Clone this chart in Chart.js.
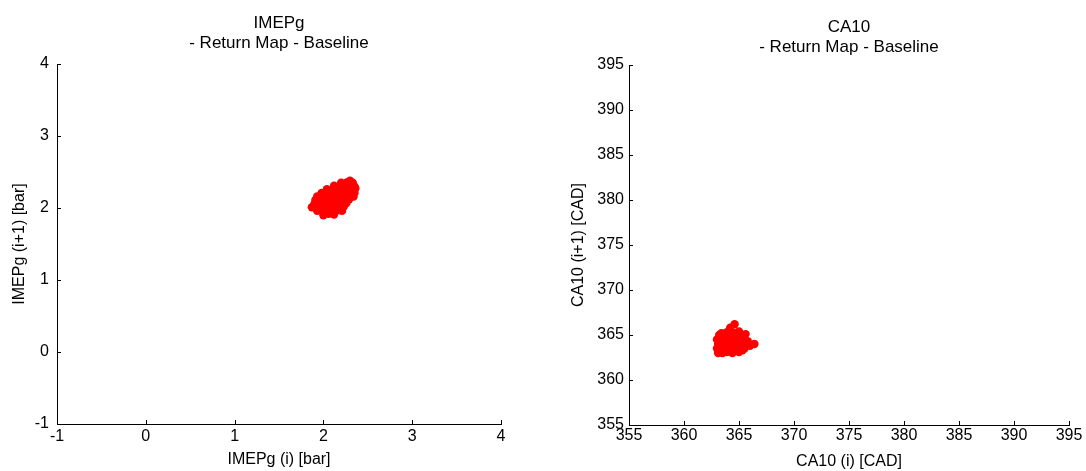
<!DOCTYPE html>
<html>
<head>
<meta charset="utf-8">
<script src="https://cdn.jsdelivr.net/npm/chart.js@4"></script>
<style>
  html, body { margin: 0; padding: 0; background: #fff; }
  #wrap { position: relative; width: 1086px; height: 471px; overflow: hidden; }
  canvas { position: absolute; top: 0; }
  #c1 { left: 0; }
  #c2 { left: 543px; }
</style>
</head>
<body>
<div id="wrap">
  <canvas id="c1" width="543" height="471"></canvas>
  <canvas id="c2" width="543" height="471"></canvas>
</div>
<script>
// ---- Data: IMEPg return map (bar) ----
const imepI  = [2.00,2.06,2.12,
                1.93,1.99,2.05,2.11,2.17,2.21,
                1.87,1.93,1.99,2.05,2.11,2.17,2.23,
                1.90,1.96,2.02,2.08,2.14,2.20,2.26,
                1.91,1.97,2.03,2.09,2.15,2.21,2.29,
                1.93,1.99,2.05,2.11,2.17,2.23,2.29,2.34,
                1.98,2.04,2.10,2.16,2.22,2.28,2.35,
                2.04,2.10,2.16,2.22,2.28,2.36,
                2.12,2.18,2.24,2.30,2.35,
                2.20,2.27,2.33,
                2.30];
const imepI1 = [1.90,1.92,1.91,
                1.96,1.95,1.97,1.95,1.97,1.96,
                2.01,2.02,2.00,2.02,2.01,2.00,2.02,
                2.06,2.07,2.05,2.07,2.06,2.05,2.07,
                2.11,2.12,2.10,2.12,2.11,2.10,2.12,
                2.16,2.17,2.15,2.17,2.16,2.15,2.17,2.16,
                2.21,2.20,2.22,2.21,2.20,2.22,2.21,
                2.26,2.25,2.27,2.26,2.25,2.27,
                2.31,2.30,2.32,2.31,2.30,
                2.35,2.36,2.35,
                2.38];
const imepTicks = [-1, 0, 1, 2, 3, 4];

// ---- Data: CA10 return map (CAD) ----
const ca10I  = [363.0,363.0,363.1,363.1,363.2,363.2,363.3,363.3,363.4,363.5,363.5,363.6,363.7,363.7,363.8,363.9,363.9,364.0,364.0,364.1,364.2,364.2,364.3,364.3,364.4,364.5,364.5,364.6,364.6,364.7,364.8,364.8,364.9,365.0,365.0,365.1,365.2,365.2,365.3,365.4,365.5,365.5,365.6,365.8,366.0,366.4,363.6,364.0,364.4,364.8,363.4,363.8];
const ca10I1 = [363.5,364.5,363.0,364.0,365.0,363.8,364.6,363.2,365.2,364.2,363.0,363.7,364.9,363.4,364.4,365.3,363.1,363.9,364.7,363.3,365.8,364.2,363.6,365.0,363.0,364.5,363.9,366.2,365.2,363.3,364.1,364.8,363.6,365.4,363.1,364.4,363.8,365.0,363.3,364.6,364.0,363.5,365.1,364.3,363.8,364.0,364.0,364.3,364.6,363.9,363.6,365.0];
const ca10Ticks = [355, 360, 365, 370, 375, 380, 385, 390, 395];

const FONT = "'Liberation Sans', Arial, Helvetica, sans-serif";

const inwardTicks = {
  id: 'inwardTicks',
  afterDraw(chart) {
    const ctx = chart.ctx;
    const ca = chart.chartArea;
    ctx.save();
    ctx.strokeStyle = '#000';
    ctx.lineWidth = 1;
    const xs = chart.scales.x, ys = chart.scales.y;
    xs.ticks.forEach(t => {
      const px = Math.round(xs.getPixelForValue(t.value)) + 0.5;
      ctx.beginPath();
      ctx.moveTo(px, ca.bottom);
      ctx.lineTo(px, ca.bottom - 4);
      ctx.stroke();
    });
    ys.ticks.forEach(t => {
      const py = Math.round(ys.getPixelForValue(t.value)) + 0.5;
      ctx.beginPath();
      ctx.moveTo(ca.left, py);
      ctx.lineTo(ca.left + 4, py);
      ctx.stroke();
    });
    ctx.restore();
  }
};

function makeChart(id, cfg) {
  const pts = cfg.xs.map((v, i) => ({ x: v, y: cfg.ys[i] }));
  return new Chart(document.getElementById(id), {
    type: 'scatter',
    data: {
      datasets: [{
        data: pts,
        backgroundColor: '#ff0000',
        borderColor: '#ff0000',
        borderWidth: 0,
        pointRadius: 4.2,
        pointHoverRadius: 4.2
      }]
    },
    plugins: [inwardTicks],
    options: {
      responsive: false,
      animation: false,
      devicePixelRatio: 1,
      layout: { padding: { left: 0, right: cfg.padRight, top: 0, bottom: 0 } },
      plugins: {
        legend: { display: false },
        tooltip: { enabled: false },
        title: {
          display: true,
          fullSize: false,
          text: cfg.title,
          color: '#000',
          font: { family: FONT, size: 17, weight: 'normal', lineHeight: '20px' },
          padding: { top: cfg.titleTop, bottom: cfg.titleBottom }
        }
      },
      scales: {
        x: {
          type: 'linear',
          min: cfg.min, max: cfg.max,
          afterBuildTicks: s => { s.ticks = cfg.ticks.map(v => ({ value: v })); },
          afterFit: s => { s.height = cfg.xHeight; },
          grid: { display: false, drawTicks: false },
          border: { display: true, color: '#000', width: 1 },
          ticks: { color: '#000', font: { family: FONT, size: 16 }, padding: cfg.xTickPad, maxRotation: 0, autoSkip: false },
          title: { display: true, text: cfg.xTitle, color: '#000', font: { family: FONT, size: 16 }, padding: { top: 0, bottom: cfg.xTitlePad } }
        },
        y: {
          type: 'linear',
          min: cfg.min, max: cfg.max,
          afterBuildTicks: s => { s.ticks = cfg.ticks.map(v => ({ value: v })); },
          afterFit: s => { s.width = cfg.yWidth; },
          grid: { display: false, drawTicks: false },
          border: { display: true, color: '#000', width: 1 },
          ticks: { color: '#000', font: { family: FONT, size: 16 }, padding: cfg.yTickPad, autoSkip: false },
          title: { display: true, text: cfg.yTitle, color: '#000', font: { family: FONT, size: 16 }, padding: { top: cfg.yTitlePad, bottom: 0 } }
        }
      }
    }
  });
}

makeChart('c1', {
  xs: imepI, ys: imepI1, ticks: imepTicks, min: -1, max: 4,
  title: ['IMEPg', '- Return Map - Baseline'],
  xTitle: 'IMEPg (i) [bar]', yTitle: 'IMEPg (i+1) [bar]',
  padRight: 42, titleTop: 13, titleBottom: 11,
  xHeight: 47, yWidth: 57, xTickPad: 3, yTickPad: 8, xTitlePad: 2, yTitlePad: 10
});

makeChart('c2', {
  xs: ca10I, ys: ca10I1, ticks: ca10Ticks, min: 355, max: 395,
  title: ['CA10', '- Return Map - Baseline'],
  xTitle: 'CA10 (i) [CAD]', yTitle: 'CA10 (i+1) [CAD]',
  padRight: 17, titleTop: 17, titleBottom: 8,
  xHeight: 46, yWidth: 86, xTickPad: 1, yTickPad: 5, xTitlePad: 0, yTitlePad: 26
});
</script>
</body>
</html>
